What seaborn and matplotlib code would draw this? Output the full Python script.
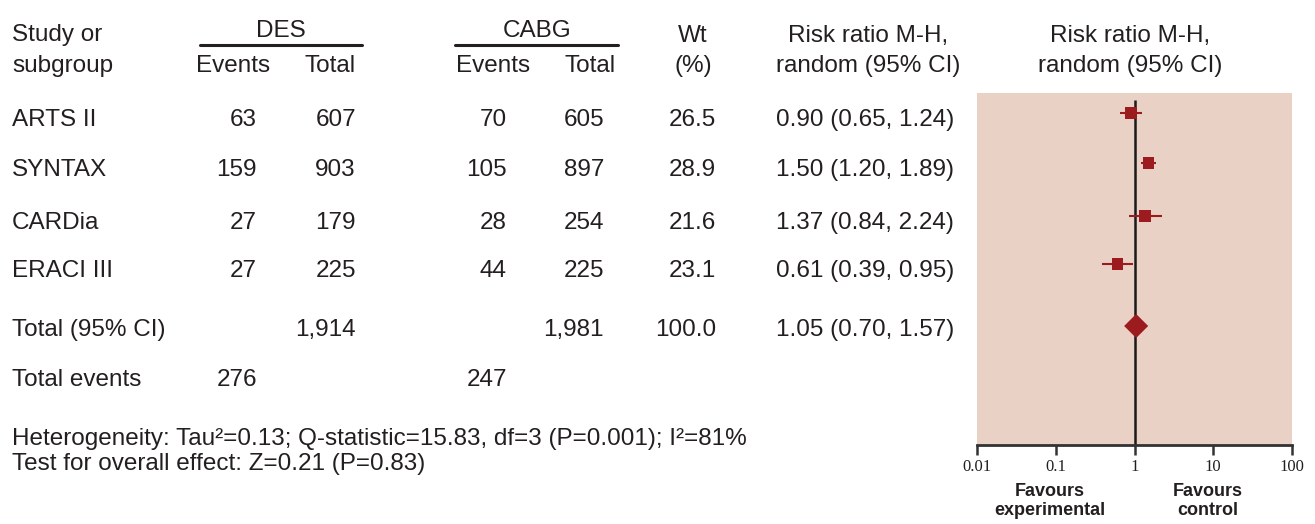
import numpy as np
import pandas as pd
import matplotlib
matplotlib.use("Agg")
import matplotlib.pyplot as plt
import seaborn as sns

sns.set_theme(style="white")
plt.rcParams['font.family'] = ['Liberation Sans', 'DejaVu Sans']

##data
studies = ["ARTS II", "SYNTAX", "CARDia", "ERACI III"]
des_events = [63, 159, 27, 27]
des_total = [607, 903, 179, 225]
cabg_events = [70, 105, 28, 44]
cabg_total = [605, 897, 254, 225]
weight = [26.5, 28.9, 21.6, 23.1]
rr = [0.90, 1.50, 1.37, 0.61]
rr_lo = [0.65, 1.20, 0.84, 0.39]
rr_hi = [1.24, 1.89, 2.24, 0.95]

tot_des, tot_cabg, tot_wt = "1,914", "1,981", "100.0"
tot_rr, tot_lo, tot_hi = 1.05, 0.70, 1.57
ev_des, ev_cabg = 276, 247

het_text = "Heterogeneity: Tau\u00b2=0.13; Q-statistic=15.83, df=3 (P=0.001); I\u00b2=81%"
eff_text = "Test for overall effect: Z=0.21 (P=0.83)"
ticks = [0.01, 0.1, 1, 10, 100]
tick_labels = ["0.01", "0.1", "1", "10", "100"]

df = pd.DataFrame({"study": studies, "rr": rr, "lo": rr_lo, "hi": rr_hi})

##layout (pixels)
W, H = 1315, 524
row_y = [120, 170, 223, 271]      # text rows of studies
total_y, events_y = 330, 380
mark_dy = -7                      # markers sit a bit above text centre
fs = 17.5
txtc = "#231f20"
red = "#9b1b1e"

fig = plt.figure(figsize=(W / 100, H / 100), dpi=100)
tx = fig.add_axes([0, 0, 1, 1])
tx.set_xlim(0, W)
tx.set_ylim(H, 0)
tx.axis("off")

def t(x, y, s, ha="left", **kw):
    tx.text(x, y, s, ha=ha, va="center", fontsize=fs, color=txtc, **kw)

##header
t(12, 35, "Study or")
t(12, 66, "subgroup")
t(281, 31, "DES", ha="center")
t(537, 31, "CABG", ha="center")
tx.plot([200, 362], [45, 45], color=txtc, lw=2.2)
tx.plot([455, 618], [45, 45], color=txtc, lw=2.2)
t(233, 66, "Events", ha="center")
t(330, 66, "Total", ha="center")
t(493, 66, "Events", ha="center")
t(590, 66, "Total", ha="center")
t(693, 36, "Wt", ha="center")
t(693, 66, "(%)", ha="center")
t(868, 36, "Risk ratio M-H,", ha="center")
t(868, 66, "random (95% CI)", ha="center")
t(1130, 36, "Risk ratio M-H,", ha="center")
t(1130, 66, "random (95% CI)", ha="center")

##study rows
for i, y in enumerate(row_y):
    t(12, y, studies[i])
    t(257, y, str(des_events[i]), ha="right")
    t(356, y, str(des_total[i]), ha="right")
    t(507, y, str(cabg_events[i]), ha="right")
    t(604, y, str(cabg_total[i]), ha="right")
    t(716, y, f"{weight[i]:.1f}", ha="right")
    t(776, y, f"{rr[i]:.2f} ({rr_lo[i]:.2f}, {rr_hi[i]:.2f})")

t(12, total_y, "Total (95% CI)")
t(356, total_y, tot_des, ha="right")
t(604, total_y, tot_cabg, ha="right")
t(716, total_y, tot_wt, ha="right")
t(776, total_y, f"{tot_rr:.2f} ({tot_lo:.2f}, {tot_hi:.2f})")

t(12, events_y, "Total events")
t(257, events_y, str(ev_des), ha="right")
t(507, events_y, str(ev_cabg), ha="right")

t(12, 439, het_text)
t(12, 464, eff_text)

##forest panel
left, right, top, bottom = 977, 1292, 93, 445
ax = fig.add_axes([left / W, (H - bottom) / H, (right - left) / W, (bottom - top) / H])
ax.set_facecolor("#e9d1c5")
ax.set_xscale("log")
ax.set_xlim(0.01, 100)
ax.set_ylim(bottom, top)

df["y"] = [y + mark_dy for y in row_y]
ax.hlines(df["y"], df["lo"], df["hi"], color=red, lw=1.5, zorder=3)
sns.scatterplot(data=df, x="rr", y="y", marker="s", s=70, color=red,
                edgecolor="none", ax=ax, zorder=4)
sns.scatterplot(x=[tot_rr], y=[total_y - 4], marker="D", s=150, color=red,
                edgecolor="none", ax=ax, zorder=4)
ax.vlines(1, 100, bottom, color="#1a1a1a", lw=1.8, zorder=2)

for sp in ["top", "left", "right"]:
    ax.spines[sp].set_visible(False)
ax.spines["bottom"].set_color("#333333")
ax.spines["bottom"].set_linewidth(2)
ax.set_xticks(ticks)
ax.set_xticklabels(tick_labels, family=["Liberation Serif", "DejaVu Serif"],
                   fontsize=12, color=txtc)
ax.tick_params(axis="x", which="major", bottom=True, direction="out", length=7, width=1.8,
               color="#333333", pad=3)
ax.tick_params(axis="x", which="minor", bottom=False)
ax.set_yticks([])
ax.set_xlabel("")
ax.set_ylabel("")

tx.text(1050, 501, "Favours\nexperimental", ha="center", va="center", fontsize=13,
        fontweight="bold", color=txtc, linespacing=1.2)
tx.text(1208, 501, "Favours\ncontrol", ha="center", va="center", fontsize=13,
        fontweight="bold", color=txtc, linespacing=1.2)

fig.savefig("out.png", dpi=100)
